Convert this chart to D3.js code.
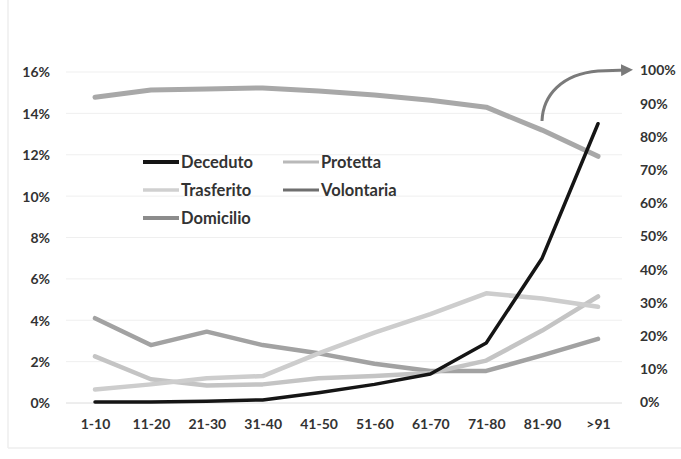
<!DOCTYPE html>
<html><head><meta charset="utf-8">
<script src="https://cdn.jsdelivr.net/npm/d3@7/dist/d3.min.js"></script>
<style>
html,body{margin:0;padding:0;background:#fff;}
svg{display:block;}
text{font-family:Lato,"Open Sans",sans-serif;font-weight:bold;fill:#333;}
</style></head>
<body>
<svg id="c" width="681" height="459"></svg>
<script>
const categories = ["1-10","11-20","21-30","31-40","41-50","51-60","61-70","71-80","81-90",">91"];
const deceduto   = [0.0005,0.0005,0.0008,0.0015,0.005,0.009,0.014,0.029,0.070,0.135];
const protetta   = [0.0225,0.0115,0.0085,0.009,0.012,0.013,0.0145,0.0205,0.035,0.0515];
const trasferito = [0.0065,0.009,0.012,0.013,0.024,0.034,0.043,0.053,0.0505,0.0465];
const volontaria = [0.041,0.028,0.0345,0.028,0.024,0.019,0.0155,0.0155,0.023,0.031];
const domicilio  = [0.918,0.940,0.943,0.946,0.937,0.925,0.909,0.888,0.819,0.740]; // right axis
const leftTicks  = [0,0.02,0.04,0.06,0.08,0.10,0.12,0.14,0.16];
const rightTicks = [0,0.1,0.2,0.3,0.4,0.5,0.6,0.7,0.8,0.9,1.0];
const legendNames = ["Deceduto","Protetta","Trasferito","Volontaria","Domicilio"];

const svg = d3.select("#c");
const x = d3.scalePoint().domain(categories).range([95,598]);
const yL = d3.scaleLinear().domain([0,0.16]).range([403,72]);
const yR = d3.scaleLinear().domain([0,1]).range([402,70]);
const pct = d3.format(".0%");

// faint page edges of the scan
svg.append("line").attr("x1",8).attr("x2",8).attr("y1",0).attr("y2",448).attr("stroke","#eeeeee").attr("stroke-width",1.5);
svg.append("line").attr("x1",8).attr("x2",681).attr("y1",448).attr("y2",448).attr("stroke","#eeeeee").attr("stroke-width",1.5);

// gridlines
svg.append("g").selectAll("line").data(leftTicks).join("line")
  .attr("x1",66).attr("x2",622)
  .attr("y1",d=>yL(d)).attr("y2",d=>yL(d))
  .attr("stroke",d=>d===0?"#dcdcdc":"#efefef").attr("stroke-width",1);

// left axis
const gl = svg.append("g").attr("transform","translate(50,0)")
  .call(d3.axisLeft(yL).tickValues(leftTicks).tickFormat(pct).tickSize(0).tickPadding(0));
gl.select(".domain").remove();
gl.selectAll("text").style("font-size","14px").attr("dy","0.35em");

// right axis
const gr = svg.append("g").attr("transform","translate(640,0)")
  .call(d3.axisRight(yR).tickValues(rightTicks).tickFormat(pct).tickSize(0).tickPadding(0));
gr.select(".domain").remove();
gr.selectAll("text").style("font-size","14px").attr("dy","0.35em");

// bottom axis
const gb = svg.append("g").attr("transform","translate(0,424)")
  .call(d3.axisBottom(x).tickSize(0).tickPadding(0));
gb.select(".domain").remove();
gb.selectAll("text").style("font-size","14px").attr("dy","0.35em");

const lineL = d3.line().x((d,i)=>x(categories[i])).y(d=>yL(d));
const lineR = d3.line().x((d,i)=>x(categories[i])).y(d=>yR(d));

const seriesL = [
  {name:"Volontaria", data:volontaria, color:"#a2a2a2", w:4.5},
  {name:"Protetta",   data:protetta,   color:"#c4c4c4", w:4.5},
  {name:"Trasferito", data:trasferito, color:"#cdcdcd", w:4.5},
  {name:"Deceduto",   data:deceduto,   color:"#151515", w:3.5}
];
svg.append("path").datum(domicilio).attr("d",lineR)
  .attr("fill","none").attr("stroke","#a8a8a8").attr("stroke-width",5).attr("stroke-linejoin","round").attr("stroke-linecap","round");
seriesL.forEach(s=>{
  svg.append("path").datum(s.data).attr("d",lineL)
    .attr("fill","none").attr("stroke",s.color).attr("stroke-width",s.w).attr("stroke-linejoin","round").attr("stroke-linecap","round");
});

// curved arrow pointing to 100%
const defs = svg.append("defs");
defs.append("marker").attr("id","ah").attr("viewBox","0 0 10 10").attr("refX",5).attr("refY",5)
  .attr("markerWidth",4).attr("markerHeight",4).attr("orient","auto")
  .append("path").attr("d","M0,0 L10,5 L0,10 z").attr("fill","#7a7a7a");
svg.append("path").attr("d","M542,121 C543,95 562,74 598,71 L627,70")
  .attr("fill","none").attr("stroke","#7a7a7a").attr("stroke-width",3).attr("marker-end","url(#ah)");

// legend
const legendColors = {"Deceduto":"#151515","Protetta":"#b9b9b9","Trasferito":"#d0d0d0","Volontaria":"#6f6f6f","Domicilio":"#8c8c8c"};
const legendWidths = {"Deceduto":4,"Protetta":3,"Trasferito":3.5,"Volontaria":3,"Domicilio":4};
const pos = [[143,162],[283,162],[143,190],[283,190],[143,218]];
const lg = svg.append("g");
legendNames.forEach((n,i)=>{
  const [lx,ly]=pos[i];
  lg.append("line").attr("x1",lx).attr("x2",lx+36).attr("y1",ly).attr("y2",ly)
    .attr("stroke",legendColors[n]).attr("stroke-width",legendWidths[n]);
  lg.append("text").attr("x",lx+38).attr("y",ly).attr("dy","0.35em")
    .style("font-size","16.5px").text(n);
});
</script>
</body></html>
